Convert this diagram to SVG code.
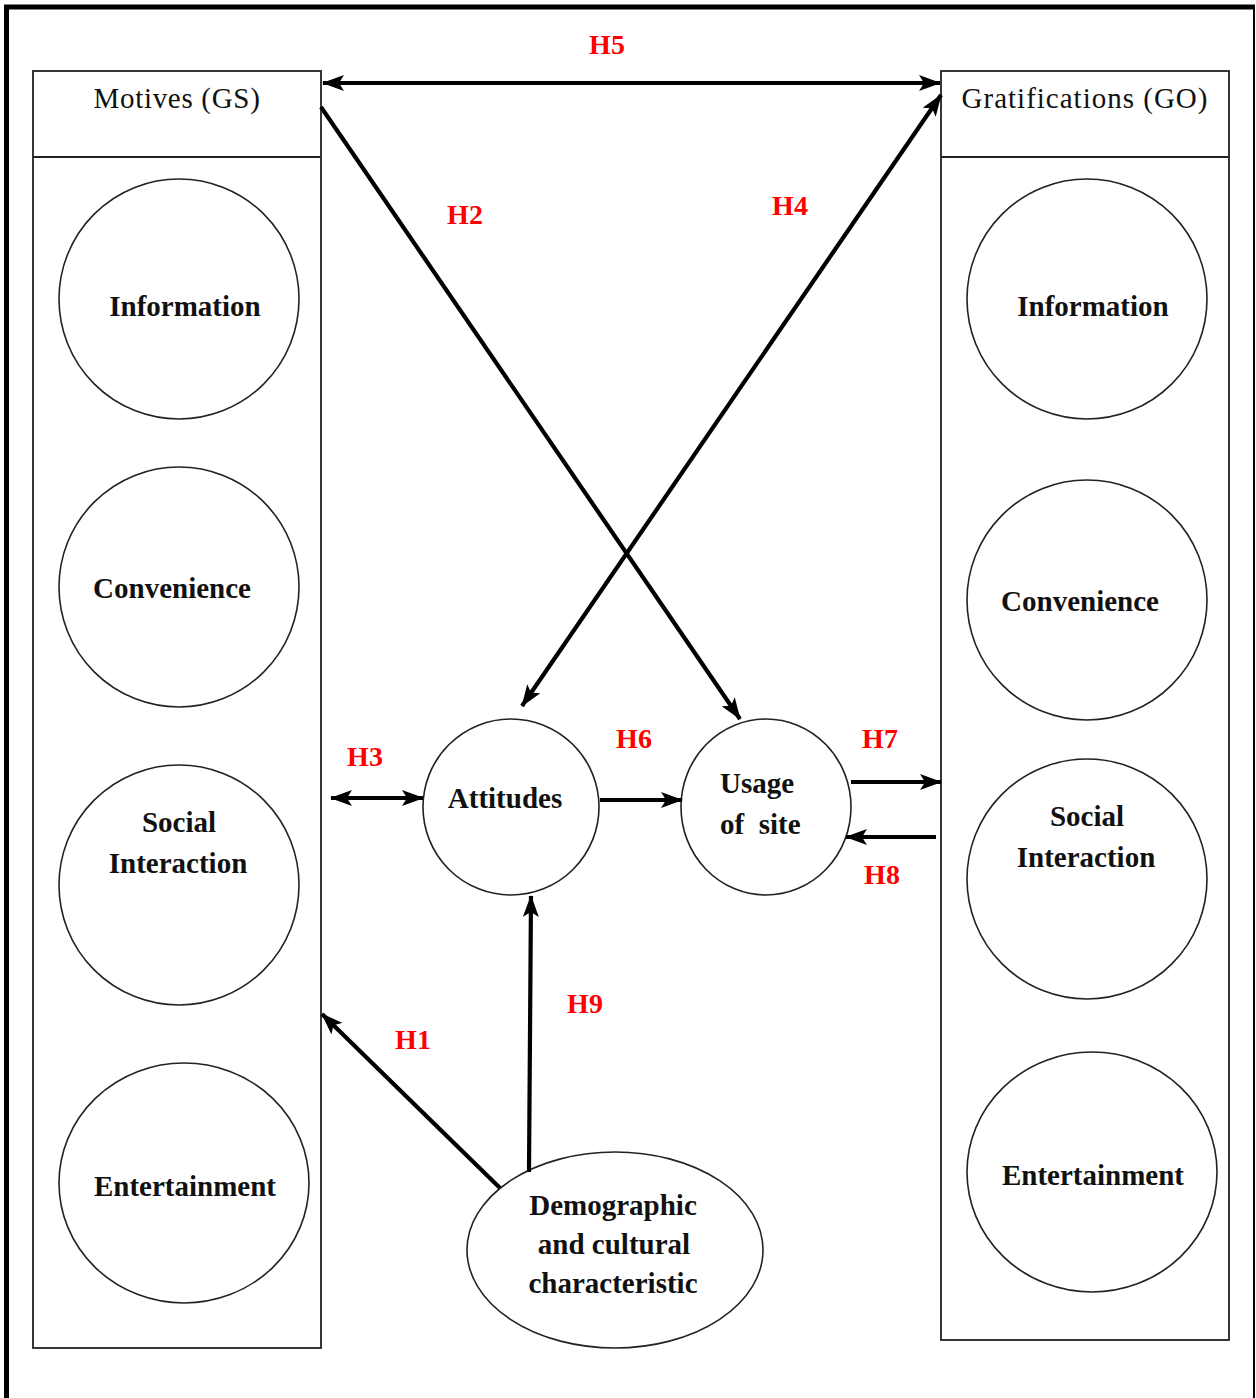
<svg xmlns="http://www.w3.org/2000/svg" width="1256" height="1398" viewBox="0 0 1256 1398">
  <style>
    .frame { fill: none; stroke: #000; }
    .box { fill: none; stroke: #222; stroke-width: 1.8; }
    .node { fill: #fff; stroke: #222; stroke-width: 1.6; }
    text { font-family: 'Liberation Serif', 'DejaVu Serif', serif; }
    .head { font-size: 29px; fill: #111; letter-spacing: 0.7px; text-anchor: middle; }
    .lbl { font-size: 29px; font-weight: bold; fill: #111; text-anchor: middle; }
    .hyp { font-size: 28px; font-weight: bold; fill: #ff0000; text-anchor: middle; }
    .arr { fill: none; stroke: #000; stroke-width: 4.2; }
  </style>
  <defs>
    <marker id="head" viewBox="0 0 22 16" refX="21" refY="8" markerWidth="22" markerHeight="16" markerUnits="userSpaceOnUse" orient="auto-start-reverse">
      <path d="M0,0 L22,8 L0,16 L5,8 Z" fill="#000"/>
    </marker>
  </defs>

  <rect width="1256" height="1398" fill="#fff"/>

  <!-- page frame: heavy top and left edges, light right edge -->
  <path class="frame" d="M6.5,1398 V7 H1255" stroke-width="5"/>
  <line class="frame" x1="1254" y1="5" x2="1254" y2="1398" stroke-width="2"/>

  <!-- Motives (GS) panel -->
  <g id="motives">
    <rect class="box" x="33" y="71" width="288" height="1277"/>
    <line class="box" x1="33" y1="157" x2="321" y2="157"/>
    <text class="head" x="177" y="108">Motives (GS)</text>
  </g>
  <g id="gs-information">
    <circle class="node" cx="179" cy="299" r="120"/>
    <text class="lbl" x="185" y="316">Information</text>
  </g>
  <g id="gs-convenience">
    <circle class="node" cx="179" cy="587" r="120"/>
    <text class="lbl" x="172" y="598">Convenience</text>
  </g>
  <g id="gs-social">
    <circle class="node" cx="179" cy="885" r="120"/>
    <text class="lbl" x="179" y="832">Social</text>
    <text class="lbl" x="178" y="873">Interaction</text>
  </g>
  <g id="gs-entertainment">
    <ellipse class="node" cx="184" cy="1183" rx="125" ry="120"/>
    <text class="lbl" x="185" y="1196">Entertainment</text>
  </g>

  <!-- Gratifications (GO) panel -->
  <g id="gratifications">
    <rect class="box" x="941" y="71" width="288" height="1269"/>
    <line class="box" x1="941" y1="157" x2="1229" y2="157"/>
    <text class="head" x="1085" y="108" style="letter-spacing:1px">Gratifications (GO)</text>
  </g>
  <g id="go-information">
    <circle class="node" cx="1087" cy="299" r="120"/>
    <text class="lbl" x="1093" y="316">Information</text>
  </g>
  <g id="go-convenience">
    <circle class="node" cx="1087" cy="600" r="120"/>
    <text class="lbl" x="1080" y="611">Convenience</text>
  </g>
  <g id="go-social">
    <circle class="node" cx="1087" cy="879" r="120"/>
    <text class="lbl" x="1087" y="826">Social</text>
    <text class="lbl" x="1086" y="867">Interaction</text>
  </g>
  <g id="go-entertainment">
    <ellipse class="node" cx="1092" cy="1172" rx="125" ry="120"/>
    <text class="lbl" x="1093" y="1185">Entertainment</text>
  </g>

  <!-- central constructs -->
  <g id="attitudes">
    <circle class="node" cx="511" cy="807" r="88"/>
    <text class="lbl" x="505" y="808">Attitudes</text>
  </g>
  <g id="usage">
    <ellipse class="node" cx="766" cy="807" rx="85" ry="88"/>
    <text class="lbl" x="720" y="793" style="text-anchor:start">Usage</text>
    <text class="lbl" x="720" y="834" style="text-anchor:start" xml:space="preserve">of  site</text>
  </g>
  <g id="demographic">
    <ellipse class="node" cx="615" cy="1250" rx="148" ry="98"/>
    <text class="lbl" x="613" y="1215">Demographic</text>
    <text class="lbl" x="614" y="1254">and cultural</text>
    <text class="lbl" x="613" y="1293">characteristic</text>
  </g>

  <!-- hypothesised paths -->
  <g id="connectors">
    <line class="arr" x1="323" y1="83" x2="940" y2="83" marker-start="url(#head)" marker-end="url(#head)"/>
    <line class="arr" x1="321" y1="107" x2="740" y2="719" marker-end="url(#head)"/>
    <line class="arr" x1="522" y1="706" x2="941" y2="95" marker-start="url(#head)" marker-end="url(#head)"/>
    <line class="arr" x1="331" y1="798" x2="423" y2="798" marker-start="url(#head)" marker-end="url(#head)"/>
    <line class="arr" x1="600" y1="800" x2="682" y2="800" marker-end="url(#head)"/>
    <line class="arr" x1="851" y1="782" x2="941" y2="782" marker-end="url(#head)"/>
    <line class="arr" x1="936" y1="837" x2="846" y2="837" marker-end="url(#head)"/>
    <line class="arr" x1="529" y1="1172" x2="531" y2="896" marker-end="url(#head)"/>
    <line class="arr" x1="500" y1="1188" x2="322" y2="1014" marker-end="url(#head)"/>
  </g>

  <!-- hypothesis labels -->
  <g id="hypotheses">
    <text class="hyp" x="607" y="54">H5</text>
    <text class="hyp" x="465" y="224">H2</text>
    <text class="hyp" x="790" y="215">H4</text>
    <text class="hyp" x="365" y="766">H3</text>
    <text class="hyp" x="634" y="748">H6</text>
    <text class="hyp" x="880" y="748">H7</text>
    <text class="hyp" x="882" y="884">H8</text>
    <text class="hyp" x="585" y="1013">H9</text>
    <text class="hyp" x="413" y="1049">H1</text>
  </g>
</svg>
